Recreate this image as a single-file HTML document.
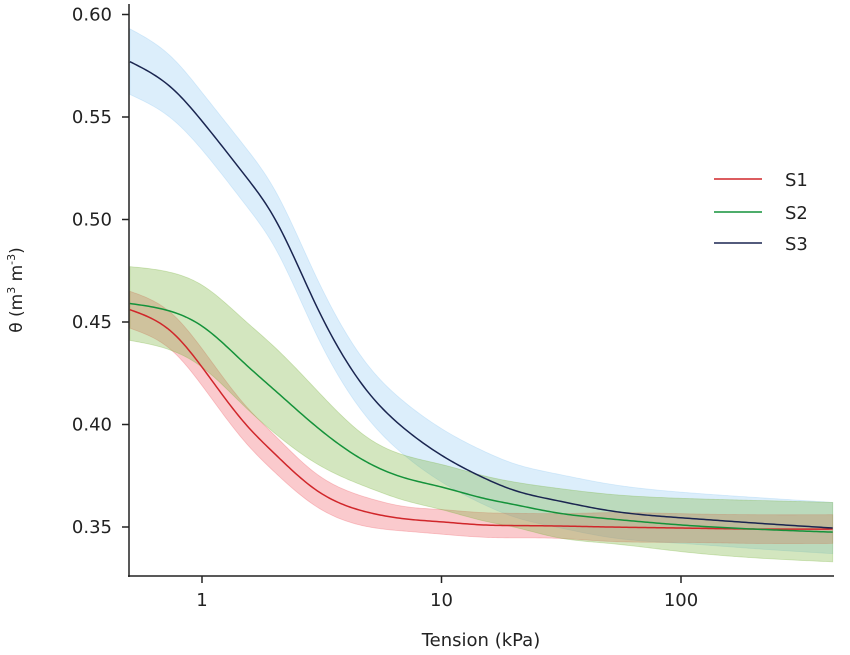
<!DOCTYPE html>
<html><head><meta charset="utf-8"><style>
body{margin:0;background:#fff;}
svg{display:block;font-family:"DejaVu Sans","Liberation Sans",sans-serif;}
</style></head><body>
<svg id="chart" width="850" height="655" viewBox="0 0 850 655">
<g id="bands"></g>
<g id="lines"></g>
<g id="axes"></g>
<text x="481" y="646" text-anchor="middle" font-size="18" fill="#222">Tension (kPa)</text>
<text transform="translate(22,290) rotate(-90)" text-anchor="middle" font-size="17" fill="#222">θ (m<tspan font-size="11" dy="-7">3</tspan><tspan dy="7"> m</tspan><tspan font-size="11" dy="-7">-3</tspan><tspan dy="7">)</tspan></text>
<g>
<g><line x1="714" y1="179" x2="762" y2="179" stroke="#d0262a" stroke-width="1.5"/><text x="785" y="186" font-size="18" fill="#222">S1</text></g>
<g><line x1="714" y1="212" x2="762" y2="212" stroke="#14923a" stroke-width="1.5"/><text x="785" y="219" font-size="18" fill="#222">S2</text></g>
<g><line x1="714" y1="243" x2="762" y2="243" stroke="#1a2550" stroke-width="1.5"/><text x="785" y="250" font-size="18" fill="#222">S3</text></g>
</g>
</svg>
<script>
const tension=[0.5,0.75,1,1.5,2,3,5,7,10,15,20,30,50,100,200,430];
const s1=[0.456,0.445,0.428,0.401,0.386,0.368,0.357,0.354,0.3525,0.351,0.3507,0.3505,0.350,0.3495,0.349,0.349];
const s1Half=[0.009,0.009,0.009,0.009,0.009,0.008,0.007,0.006,0.006,0.006,0.006,0.006,0.007,0.007,0.007,0.007];
const s2=[0.459,0.455,0.448,0.430,0.417,0.399,0.381,0.374,0.3695,0.364,0.361,0.357,0.354,0.351,0.349,0.3475];
const s2Half=[0.018,0.019,0.020,0.021,0.021,0.018,0.012,0.011,0.011,0.011,0.011,0.012,0.012,0.013,0.014,0.0145];
const s3=[0.577,0.564,0.548,0.522,0.501,0.458,0.415,0.398,0.385,0.374,0.368,0.363,0.358,0.3545,0.352,0.3495];
const s3Half=[0.016,0.015,0.014,0.014,0.014,0.014,0.013,0.013,0.013,0.013,0.013,0.013,0.013,0.0125,0.0125,0.0125];
const yTicks=[0.35,0.40,0.45,0.50,0.55,0.60];
const yTickLabels=["0.35","0.40","0.45","0.50","0.55","0.60"];
const xTicks=[1,10,100];
const xTickLabels=["1","10","100"];

const NS="http://www.w3.org/2000/svg";
const xs=v=>202+239.5*Math.log10(v);
const ys=v=>527-(v-0.35)*2050;
// natural cubic spline in log10(tension)
function spline(xv,yv){const n=xv.length,h=[],a=[],l=[1],mu=[0],z=[0],c=new Array(n).fill(0),b=[],d=[];
 for(let i=0;i<n-1;i++)h[i]=xv[i+1]-xv[i];
 for(let i=1;i<n-1;i++)a[i]=3/h[i]*(yv[i+1]-yv[i])-3/h[i-1]*(yv[i]-yv[i-1]);
 for(let i=1;i<n-1;i++){l[i]=2*(xv[i+1]-xv[i-1])-h[i-1]*mu[i-1];mu[i]=h[i]/l[i];z[i]=(a[i]-h[i-1]*z[i-1])/l[i];}
 for(let j=n-2;j>=0;j--){c[j]=(z[j]||0)-(mu[j]||0)*c[j+1];b[j]=(yv[j+1]-yv[j])/h[j]-h[j]*(c[j+1]+2*c[j])/3;d[j]=(c[j+1]-c[j])/(3*h[j]);}
 return u=>{let j=0;while(j<n-2&&u>xv[j+1])j++;const t=u-xv[j];return yv[j]+b[j]*t+c[j]*t*t+d[j]*t*t*t;};}
const lx=tension.map(t=>Math.log10(t));
function curve(vals){const f=spline(lx,vals),pts=[];const u0=lx[0],u1=lx[lx.length-1];
 for(let k=0;k<=300;k++){const u=u0+(u1-u0)*k/300;pts.push([202+239.5*u,ys(f(u))]);}return pts;}
function pd(pts){return pts.map((p,i)=>(i?"L":"M")+p[0].toFixed(2)+","+p[1].toFixed(2)).join(" ");}
function mk(tag,attrs,parent){const e=document.createElementNS(NS,tag);for(const k in attrs)e.setAttribute(k,attrs[k]);parent.appendChild(e);return e;}
const series=[
 {n:"s3",m:s3,h:s3Half,fill:"rgba(130,195,240,0.28)",stroke:"#1a2550"},
 {n:"s1",m:s1,h:s1Half,fill:"rgba(238,90,100,0.32)",stroke:"#d0262a"},
 {n:"s2",m:s2,h:s2Half,fill:"rgba(120,180,60,0.33)",stroke:"#14923a"}];
const bands=document.getElementById('bands'),lines=document.getElementById('lines');
series.forEach(s=>{
 const up=curve(s.m.map((v,i)=>v+s.h[i]));
 const lo=curve(s.m.map((v,i)=>v-s.h[i])).reverse();
 const b=mk('path',{d:pd(up.concat(lo))+" Z",fill:s.fill,stroke:s.fill,"stroke-width":0.8},bands);
 
 
});
[series[1],series[2],series[0]].forEach(s=>{
 const l=mk('path',{d:pd(curve(s.m)),fill:"none",stroke:s.stroke,"stroke-width":1.5},lines);
 
 
});
const ax=document.getElementById('axes');
mk('line',{x1:129,y1:4,x2:129,y2:577,stroke:"#222","stroke-width":1.5},ax);
mk('line',{x1:128,y1:576,x2:834,y2:576,stroke:"#222","stroke-width":1.5},ax);
yTicks.forEach((v,i)=>{
 mk('line',{x1:122,y1:ys(v),x2:129,y2:ys(v),stroke:"#222","stroke-width":1.5},ax);
 const t=mk('text',{x:112,y:ys(v)+6,"text-anchor":"end","font-size":18,fill:"#222"},ax);t.textContent=yTickLabels[i];
 
 
});
xTicks.forEach((v,i)=>{
 mk('line',{x1:xs(v),y1:576,x2:xs(v),y2:583,stroke:"#222","stroke-width":1.5},ax);
 const t=mk('text',{x:xs(v),y:606,"text-anchor":"middle","font-size":18,fill:"#222"},ax);t.textContent=xTickLabels[i];
 
 
});
</script>
</body></html>
